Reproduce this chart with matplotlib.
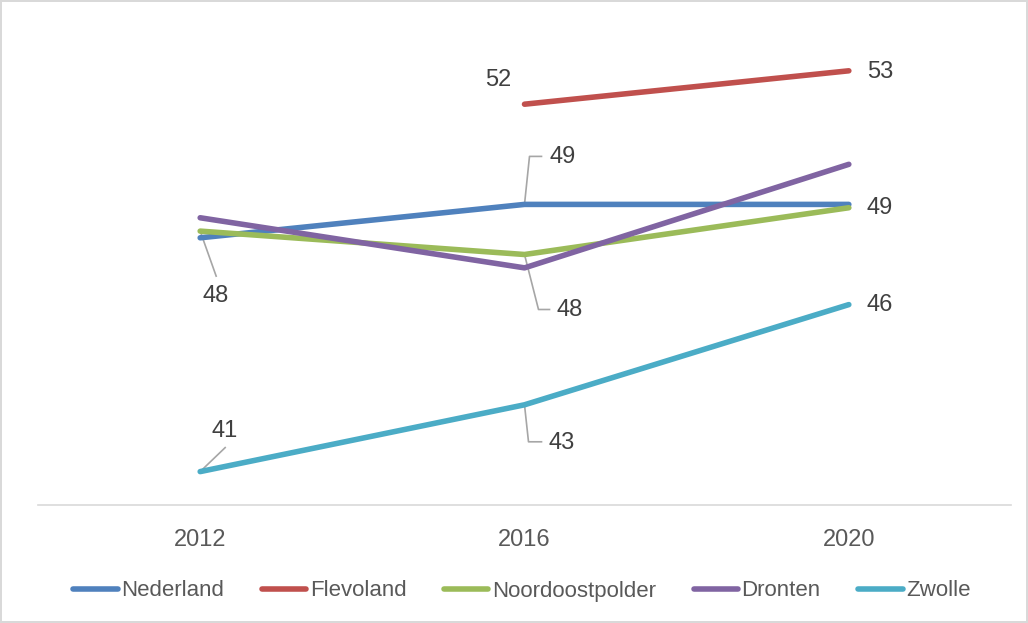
import numpy as np
import matplotlib
matplotlib.use('Agg')
import matplotlib.pyplot as plt

# ── Data ──────────────────────────────────────────────────────────────────────
YEARS = ['2012', '2016', '2020']
SERIES = ['Nederland', 'Flevoland', 'Noordoostpolder', 'Dronten', 'Zwolle']
nederland       = [48.0, 49.0, 49.0]
flevoland       = [np.nan, 52.0, 53.0]
noordoostpolder = [48.2, 47.5, 48.9]
dronten         = [48.6, 47.1, 50.2]
zwolle          = [41.0, 43.0, 46.0]
VALUES = [nederland, flevoland, noordoostpolder, dronten, zwolle]

COLORS = ['#4F81BD', '#C0504D', '#9BBB59', '#8064A2', '#4BACC6']
FONT = ['Liberation Sans Narrow', 'Liberation Sans', 'DejaVu Sans']

# labelled points: (series index, year index, text offset px, leader vertices px)
LABELS = [
    (1, 1, (-26, 24), None),
    (1, 2, (31, -1), None),
    (0, 1, (38, 47), [(0, 0), (5, 48), (17, 48)]),
    (2, 2, (31, 0), None),
    (2, 0, (15, -65), [(0, 0), (16, -45)]),
    (2, 1, (45, -56), [(0, 0), (14, -55), (25, -55)]),
    (4, 0, (24, 41), [(0, 0), (25, 24)]),
    (4, 1, (37, -38), [(0, 0), (4, -37), (17, -37)]),
    (4, 2, (31, 0), None),
]

# ── Figure ────────────────────────────────────────────────────────────────────
fig = plt.figure(figsize=(10.28, 6.23), dpi=100, facecolor='white')
fig.patch.set_edgecolor('#D9D9D9')
fig.patch.set_linewidth(1.5)
ax = fig.add_axes([38 / 1028, 118 / 623, 973 / 1028, 501 / 623])

x = np.arange(len(YEARS))
for vals, name, col in zip(VALUES, SERIES, COLORS):
    ax.plot(x, vals, color=col, lw=4, solid_capstyle='round', label=name, zorder=3)

ax.set_xlim(-0.5, len(YEARS) - 0.5)
ax.set_ylim(40, 55)
ax.set_yticks([])
ax.set_xticks(x)
ax.set_xticklabels(YEARS, color='#595959', fontsize=17, family=FONT)
ax.tick_params(axis='x', length=0, pad=17)
for s in ['left', 'right', 'top']:
    ax.spines[s].set_visible(False)
ax.spines['bottom'].set_color('#D9D9D9')
ax.spines['bottom'].set_linewidth(1.2)

# ── Data labels with leader lines ─────────────────────────────────────────────
inv = ax.transData.inverted()
for si, yi, (dx, dy), leader in LABELS:
    v = VALUES[si][yi]
    px, py = ax.transData.transform((x[yi], v))
    if leader:
        pts = inv.transform([(px + lx, py + ly) for lx, ly in leader])
        ax.plot(pts[:, 0], pts[:, 1], color='#A6A6A6', lw=1.2, zorder=2)
    tx, ty = inv.transform((px + dx, py + dy))
    ax.text(tx, ty, f'{v:.0f}', ha='center', va='center', fontsize=17,
            color='#404040', family=FONT, zorder=4)

leg = fig.legend(loc='center', bbox_to_anchor=(0.5 + 8 / 1028, 1 - 591 / 623), ncol=5,
                 frameon=False, handlelength=2.0, handletextpad=0.15,
                 columnspacing=1.7, prop={'family': FONT, 'size': 16})
for t in leg.get_texts():
    t.set_color('#595959')

fig.savefig('out.png', dpi=100)
